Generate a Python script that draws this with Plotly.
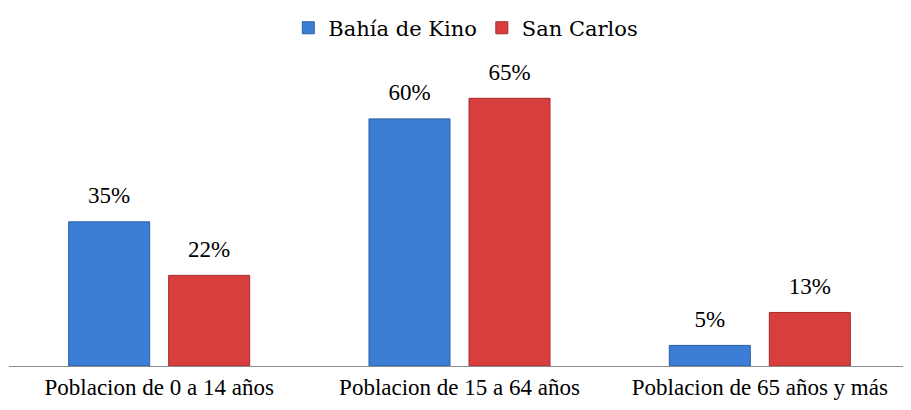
import plotly.graph_objects as go

categories = ["Poblacion de 0 a 14 años", "Poblacion de 15 a 64 años", "Poblacion de 65 años y más"]
bahia = [35, 60, 5]
san_carlos = [22, 65, 13]
series_names = ["Bahía de Kino", "San Carlos"]

font_family = "Liberation Serif"
FS = 23

fig = go.Figure()
fig.add_trace(go.Bar(
    x=categories, y=bahia, name=series_names[0],
    marker=dict(color="#3C7ED6", line=dict(color="#2A5EA6", width=1)),
    offsetgroup="a",
))
fig.add_trace(go.Bar(
    x=categories, y=san_carlos, name=series_names[1],
    marker=dict(color="#D83E3E", line=dict(color="#A52A2A", width=1)),
    offsetgroup="b",
))
for vals, grp in ((bahia, "a"), (san_carlos, "b")):
    fig.add_trace(go.Scatter(
        x=categories, y=vals, mode="markers+text", text=[f"{v}%" for v in vals],
        textposition="top center", offsetgroup=grp, showlegend=False,
        marker=dict(size=19, opacity=0),
        textfont=dict(family=font_family, size=FS, color="#000"),
        hoverinfo="skip", cliponaxis=False,
    ))

fig.update_layout(
    width=903, height=402,
    margin=dict(l=1, r=1, t=52, b=44, autoexpand=False),
    paper_bgcolor="white", plot_bgcolor="white",
    barmode="group", bargap=0.334, bargroupgap=0.19,
    scattermode="group", scattergap=0.334,
    font=dict(family=font_family, size=FS, color="#000"),
    showlegend=True,
    legend=dict(orientation="h", x=0.507, xanchor="center", y=0.95, yanchor="middle",
                yref="container",
                font=dict(family="DejaVu Serif", size=21, color="#000"),
                traceorder="normal"),
)
fig.update_xaxes(showline=True, linecolor="#8c8c8c", linewidth=1, ticks="",
                 automargin=False,
                 tickfont=dict(family=font_family, size=FS, color="#000"))
fig.update_yaxes(visible=False, range=[0, 74.3], automargin=False)

fig.write_html("out.html")
